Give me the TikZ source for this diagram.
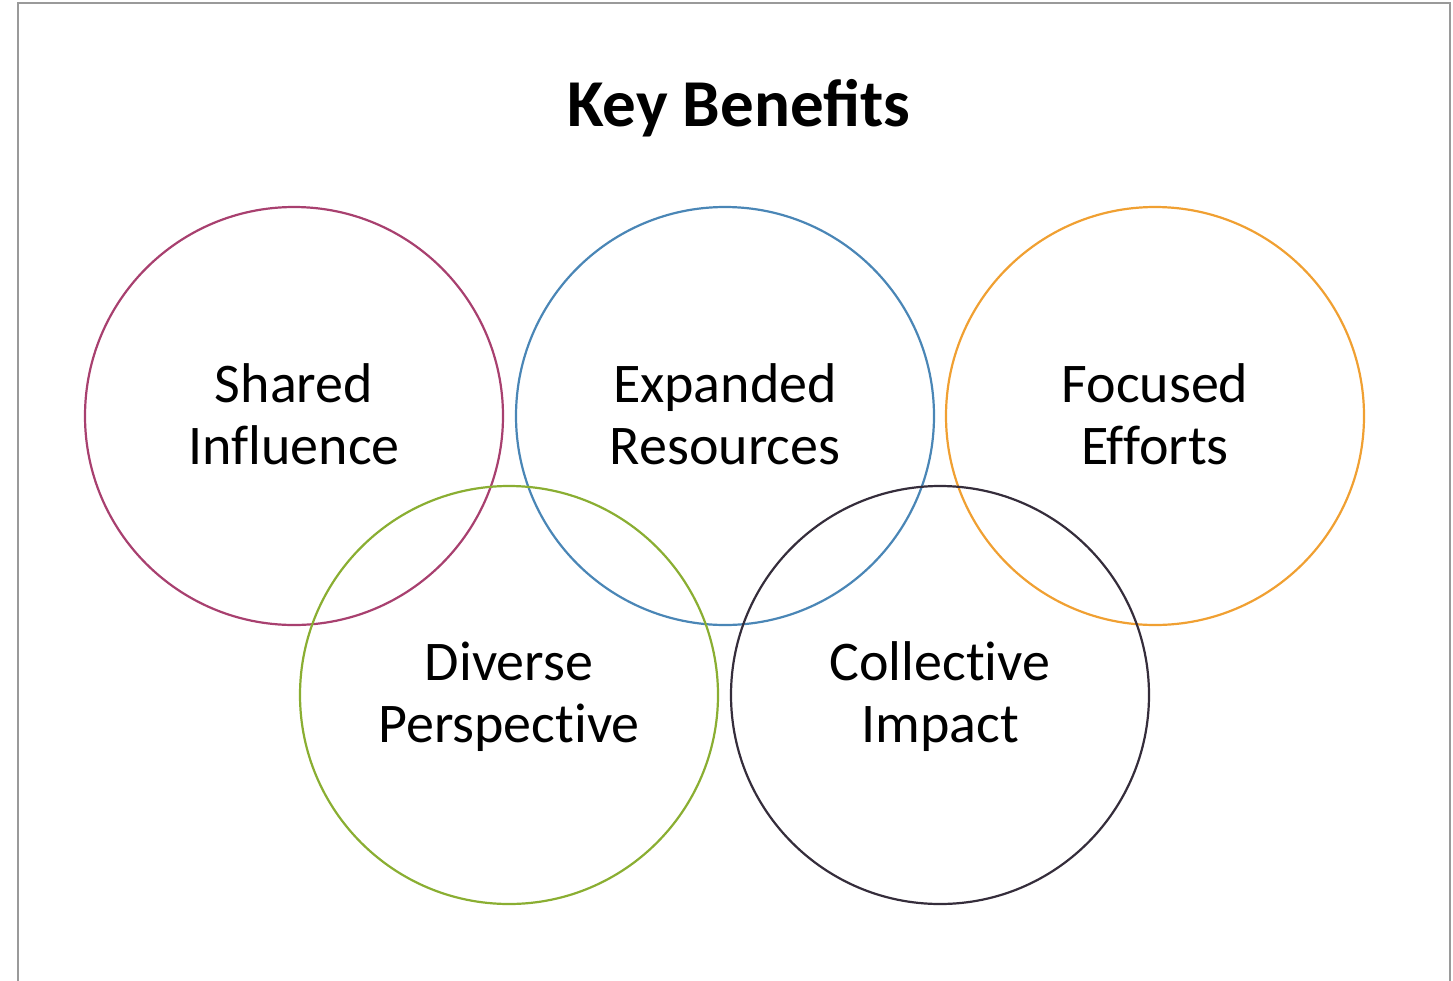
\documentclass[tikz,border=0pt]{standalone}
\usepackage{fontspec}
\setmainfont{Carlito}
\newfontfamily\lblfont[Ligatures=NoCommon]{Carlito}
\definecolor{cmag}{HTML}{A8406F}
\definecolor{cblue}{HTML}{4A86B6}
\definecolor{corange}{HTML}{F0A032}
\definecolor{cgreen}{HTML}{8AAE32}
\definecolor{cdark}{HTML}{352D3B}
\definecolor{frame}{HTML}{9A9A9A}
\begin{document}
\begin{tikzpicture}[x=1pt,y=-1pt,
  ring/.style={circle, draw, line width=2.2pt, minimum size=418pt, inner sep=0pt},
  lbl/.style={align=center, font=\lblfont\fontsize{56}{62}\selectfont, text=black}]
\useasboundingbox (0,0) rectangle (1453,980);
\draw[frame, line width=2pt] (18,990) -- (18,3) -- (1450,3) -- (1450,990);
\node[font=\bfseries\fontsize{67}{72}\selectfont] (title) at (739,108) {Key Benefits};
\node[ring, draw=cmag] (c1) at (294,416) {};
\node[ring, draw=cblue] (c2) at (725,416) {};
\node[ring, draw=corange] (c3) at (1155,416) {};
\node[ring, draw=cgreen] (c4) at (509,695) {};
\node[ring, draw=cdark] (c5) at (940,695) {};
\node[lbl] (t1) at (294,414) {Shared\\Influence};
\node[lbl] (t2) at (725,414) {Expanded\\Resources};
\node[lbl] (t3) at (1155,414) {Focused\\Efforts};
\node[lbl] (t4) at (509,697) {Diverse\\Perspective};
\node[lbl] (t5) at (940,697) {Collective\\Impact};
\end{tikzpicture}
\end{document}
